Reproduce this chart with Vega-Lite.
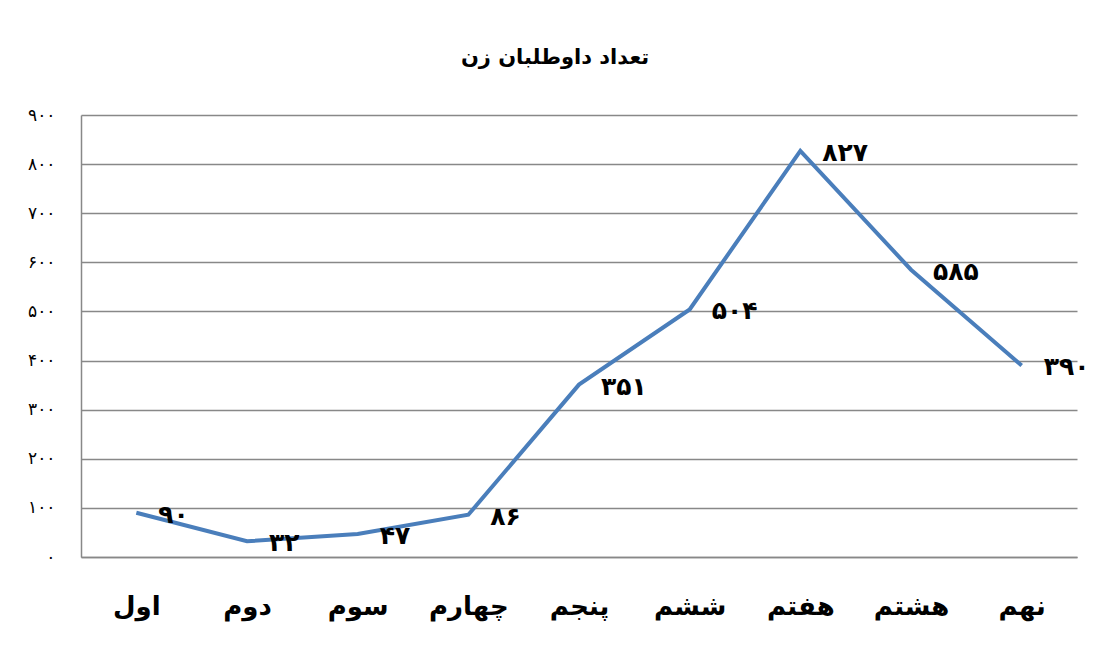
{
  "$schema": "https://vega.github.io/schema/vega-lite/v6.json",
  "autosize": {"type": "none"},
  "padding": {"left": 81, "top": 115, "right": 17, "bottom": 98},
  "width": 996,
  "height": 442,
  "background": "white",
  "title": {
    "text": "تعداد داوطلبان زن",
    "font": "DejaVu Sans",
    "fontSize": 21,
    "fontWeight": "bold",
    "color": "black",
    "anchor": "middle",
    "dx": -24,
    "offset": 38
  },
  "data": {
    "values": [
      {"grade": "اول", "count": 90, "label": "۹۰"},
      {"grade": "دوم", "count": 32, "label": "۳۲"},
      {"grade": "سوم", "count": 47, "label": "۴۷"},
      {"grade": "چهارم", "count": 86, "label": "۸۶"},
      {"grade": "پنجم", "count": 351, "label": "۳۵۱"},
      {"grade": "ششم", "count": 504, "label": "۵۰۴"},
      {"grade": "هفتم", "count": 827, "label": "۸۲۷"},
      {"grade": "هشتم", "count": 585, "label": "۵۸۵"},
      {"grade": "نهم", "count": 390, "label": "۳۹۰"}
    ]
  },
  "encoding": {
    "x": {
      "field": "grade",
      "type": "nominal",
      "sort": null,
      "scale": {"type": "point", "padding": 0.5},
      "axis": {
        "title": null,
        "labelAngle": 0,
        "labelFont": "DejaVu Sans",
        "labelFontSize": 26,
        "labelFontWeight": "bold",
        "labelColor": "black",
        "labelPadding": 36,
        "ticks": false,
        "domain": true,
        "domainColor": "#888888",
        "domainWidth": 1.5,
        "grid": false
      }
    },
    "y": {
      "field": "count",
      "type": "quantitative",
      "scale": {"domain": [0, 900], "nice": false},
      "axis": {
        "title": null,
        "values": [0, 100, 200, 300, 400, 500, 600, 700, 800, 900],
        "labelExpr": "['۰','۱۰۰','۲۰۰','۳۰۰','۴۰۰','۵۰۰','۶۰۰','۷۰۰','۸۰۰','۹۰۰'][round(datum.value/100)]",
        "labelFont": "DejaVu Sans",
        "labelFontSize": 17,
        "labelColor": "black",
        "labelPadding": 26,
        "ticks": false,
        "domain": true,
        "domainColor": "#888888",
        "domainWidth": 1.5,
        "grid": true,
        "gridColor": "#888888",
        "gridWidth": 1.5
      }
    }
  },
  "layer": [
    {
      "mark": {"type": "line", "color": "#4A7EBB", "strokeWidth": 4, "strokeJoin": "miter"}
    },
    {
      "mark": {
        "type": "text",
        "align": "left",
        "baseline": "middle",
        "dx": 22,
        "dy": 2,
        "font": "DejaVu Sans",
        "fontSize": 25,
        "fontWeight": "bold",
        "color": "black"
      },
      "encoding": {"text": {"field": "label"}}
    }
  ],
  "config": {"view": {"stroke": null}}
}
